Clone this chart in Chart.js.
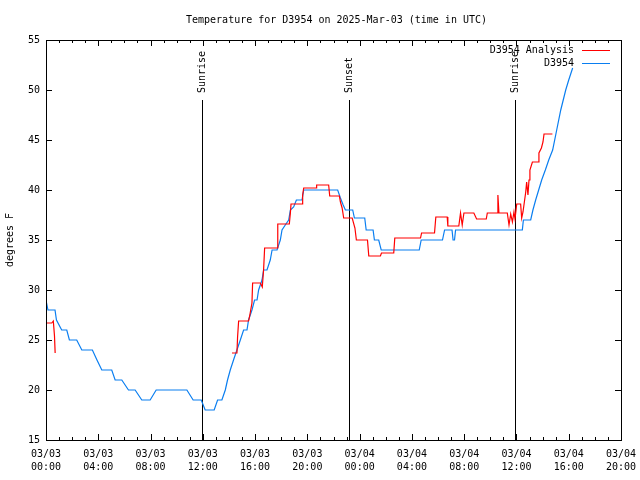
<!DOCTYPE html>
<html>
<head>
<meta charset="utf-8">
<script src="https://cdn.jsdelivr.net/npm/chart.js@4.4.1/dist/chart.umd.min.js"></script>
<style>
  html, body { margin: 0; padding: 0; background: #fff; }
  canvas { display: block; }
</style>
</head>
<body>
<canvas id="chart" width="640" height="480"></canvas>
<script>
'use strict';
// Temperature for D3954, 2025-Mar-03 — hours since 03/03 00:00 UTC

const titleText = 'Temperature for D3954 on 2025-Mar-03 (time in UTC)';
const yTitle = 'degrees F';

const xTickLabels = [
    ['03/03', '00:00'], ['03/03', '04:00'], ['03/03', '08:00'], ['03/03', '12:00'],
    ['03/03', '16:00'], ['03/03', '20:00'], ['03/04', '00:00'], ['03/04', '04:00'],
    ['03/04', '08:00'], ['03/04', '12:00'], ['03/04', '16:00'], ['03/04', '20:00'],
];

// sun events (hours)
const eventHours  = [11.9, 23.17, 35.89];
const eventLabels = ['Sunrise', 'Sunset', 'Sunrise'];

// D3954 Analysis (red) — null marks the gap
const analysisHours = [
    0, 0.44, 0.56, 0.6, 0.65, 0.7, 0.8,
    14.23, 14.61, 14.66, 14.74, 15.5, 15.57, 15.76, 15.81, 16.4, 16.55, 16.65, 16.73,
    17.68, 17.72, 17.75, 18.62, 18.7, 18.75, 19.59, 19.64, 19.72, 20.67, 20.71,
    21.63, 21.71, 22.45, 22.53, 22.66, 22.78, 23.43, 23.64, 23.75, 24.6, 24.7,
    25.59, 25.67, 26.61, 26.69, 28.66, 28.74, 29.73, 29.83, 30.7, 30.75, 31.59,
    31.72, 31.85, 31.98, 32.74, 32.95, 33.69, 33.77, 34.54, 34.58, 34.66, 35.3,
    35.43, 35.56, 35.69, 35.81, 35.89, 36.02, 36.32, 36.4, 36.5, 36.71, 36.78,
    36.88, 36.96, 37.03, 37.22, 37.65, 37.72, 37.91, 38.03, 38.11, 38.75,
];
const analysisTemps = [
    26.7, 26.7, 26.9, 26.9, 25.4, 23.7, null,
    23.7, 23.7, 25.3, 26.9, 26.9, 27.3, 28.7, 30.7, 30.7, 30.3, 32, 34.2,
    34.2, 35.3, 36.6, 36.6, 37.7, 38.6, 38.6, 39.5, 40.2, 40.2, 40.5,
    40.5, 39.4, 39.4, 38.8, 38.2, 37.2, 37.2, 36.2, 35, 35, 33.4,
    33.4, 33.7, 33.7, 35.2, 35.2, 35.7, 35.7, 37.3, 37.3, 36.4, 36.4,
    37.7, 36.5, 37.7, 37.7, 37.1, 37.1, 37.7, 37.7, 39.5, 37.7, 37.7,
    36.5, 37.6, 36.8, 37.8, 37.1, 38.6, 38.6, 37.2, 37.8, 39.8, 40.8,
    39.5, 41, 42, 42.8, 42.8, 43.7, 44.2, 44.8, 45.6, 45.6,
];

// D3954 observations (blue)
const obsHours = [
    0, 0.15, 0.69, 0.8, 1.2, 1.59, 1.79, 2.35, 2.74, 3.55, 3.9, 4.27, 5.03, 5.29,
    5.8, 6.31, 6.82, 7.33, 7.97, 8.43, 10.78, 11.26, 11.88, 12.18, 12.87, 13.13,
    13.46, 13.72, 13.89, 14.1, 14.35, 14.61, 14.87, 15.12, 15.38, 15.5, 15.76,
    15.96, 16.15, 16.27, 16.53, 16.65, 16.91, 17.16, 17.3, 17.68, 17.93, 18.06,
    18.31, 18.57, 18.7, 18.95, 19.16, 19.59, 19.72, 22.32, 22.53, 22.74, 22.91,
    23.47, 23.6, 24.39, 24.5, 25.03, 25.13, 25.46, 25.65, 28.56, 28.71, 30.34,
    30.5, 31.07, 31.15, 31.26, 31.34, 36.45, 36.53, 37.09, 37.26, 37.47, 37.7,
    37.93, 38.21, 38.47, 38.77, 39.08, 39.39, 39.77, 40.0, 40.3,
];
const obsTemps = [
    29, 28, 28, 27, 26, 26, 25, 25, 24, 24, 23, 22, 22, 21,
    21, 20, 20, 19, 19, 20, 20, 19, 19, 18, 18, 19,
    19, 20, 21, 22, 23, 24, 25, 26, 26, 27, 28,
    29, 29, 30, 31, 32, 32, 33, 34, 34, 35, 36,
    36.5, 37, 38, 38.3, 39, 39, 40, 40, 39.2, 38.5, 38,
    38, 37.2, 37.2, 36, 36, 35, 35, 34, 34, 35, 35,
    36, 36, 35, 35, 36, 36, 37, 37, 38, 39, 40,
    41, 42, 43, 44, 46, 48, 50, 51, 52.2,
];

const FONT = 'DejaVu Sans Mono';
const RED  = '#ff0000';
const BLUE = '#0a7ef0';

function toPoints(xs, ys) {
    return xs.map((x, i) => ({ x: x, y: ys[i] }));
}

// frame, inward ticks, sun lines, legend, titles
const gnuplotDecor = {
    id: 'gnuplotDecor',
    beforeDatasetsDraw(chart) {
        const { ctx, chartArea: a, scales: { x, y } } = chart;
        ctx.save();
        ctx.strokeStyle = '#000';
        ctx.lineWidth = 1;
        ctx.fillStyle = '#000';
        ctx.font = '10px ' + FONT;
        const top = y.getPixelForValue(49);
        eventHours.forEach((h, i) => {
            const px = Math.round(x.getPixelForValue(h)) + 0.5;
            ctx.beginPath();
            ctx.moveTo(px, top);
            ctx.lineTo(px, a.bottom);
            ctx.stroke();
            ctx.save();
            ctx.translate(px, top - 7);
            ctx.rotate(-Math.PI / 2);
            ctx.textAlign = 'left';
            ctx.textBaseline = 'middle';
            ctx.fillText(eventLabels[i], 0, 0);
            ctx.restore();
        });
        ctx.restore();
    },
    afterDraw(chart) {
        const { ctx, chartArea: a, scales: { x, y } } = chart;
        ctx.save();
        ctx.strokeStyle = '#000';
        ctx.lineWidth = 1;
        ctx.strokeRect(Math.round(a.left) + 0.5, Math.round(a.top) + 0.5,
                       Math.round(a.right - a.left), Math.round(a.bottom - a.top));

        ctx.beginPath();
        for (let h = x.min; h <= x.max; h++) {
            const px = Math.round(x.getPixelForValue(h)) + 0.5;
            const len = h % 4 === 0 ? 6 : 3;
            ctx.moveTo(px, a.bottom); ctx.lineTo(px, a.bottom - len);
            ctx.moveTo(px, a.top);    ctx.lineTo(px, a.top + len);
        }
        for (let v = y.min; v <= y.max; v += 5) {
            const py = Math.round(y.getPixelForValue(v)) + 0.5;
            ctx.moveTo(a.left, py);  ctx.lineTo(a.left + 6, py);
            ctx.moveTo(a.right, py); ctx.lineTo(a.right - 6, py);
        }
        ctx.stroke();

        ctx.fillStyle = '#000';
        ctx.font = '10px ' + FONT;

        // title
        ctx.textAlign = 'center';
        ctx.textBaseline = 'middle';
        ctx.fillText(titleText, (a.left + a.right) / 2 + 3, 20);

        // y axis title
        ctx.save();
        ctx.translate(10, (a.top + a.bottom) / 2);
        ctx.rotate(-Math.PI / 2);
        ctx.fillText(yTitle, 0, 0);
        ctx.restore();

        // legend
        chart.data.datasets.forEach((ds, i) => {
            const ly = 50 + i * 13;
            ctx.textAlign = 'right';
            ctx.fillStyle = '#000';
            ctx.fillText(ds.label, a.right - 47, ly);
            ctx.strokeStyle = ds.borderColor;
            ctx.beginPath();
            ctx.moveTo(a.right - 39, ly + 0.5);
            ctx.lineTo(a.right - 11, ly + 0.5);
            ctx.stroke();
        });
        ctx.restore();
    },
};

new Chart(document.getElementById('chart'), {
    type: 'line',
    data: {
        datasets: [
            {
                label: 'D3954 Analysis',
                data: toPoints(analysisHours, analysisTemps),
                borderColor: RED,
                borderWidth: 1.2,
                pointRadius: 0,
                tension: 0,
                spanGaps: false,
                fill: false,
            },
            {
                label: 'D3954',
                data: toPoints(obsHours, obsTemps),
                borderColor: BLUE,
                borderWidth: 1.2,
                pointRadius: 0,
                tension: 0,
                fill: false,
            },
        ],
    },
    options: {
        responsive: false,
        animation: false,
        events: [],
        layout: { padding: { top: 40, right: 19, left: 0, bottom: 0 } },
        plugins: {
            legend: { display: false },
            tooltip: { enabled: false },
        },
        scales: {
            x: {
                type: 'linear',
                min: 0,
                max: 44,
                afterFit: s => { s.height = 40; s.paddingLeft = 0; s.paddingRight = 0; },
                grid: { display: false, drawTicks: false },
                border: { display: false },
                ticks: {
                    stepSize: 4,
                    autoSkip: false,
                    maxRotation: 0,
                    padding: 8,
                    color: '#000',
                    font: { family: FONT, size: 10, lineHeight: 1.3 },
                    callback: (v, i) => xTickLabels[i],
                },
            },
            y: {
                min: 15,
                max: 55,
                afterFit: s => { s.width = 46; },
                grid: { display: false, drawTicks: false },
                border: { display: false },
                ticks: {
                    stepSize: 5,
                    padding: 6,
                    color: '#000',
                    font: { family: FONT, size: 10 },
                },
            },
        },
    },
    plugins: [gnuplotDecor],
});
</script>
</body>
</html>
